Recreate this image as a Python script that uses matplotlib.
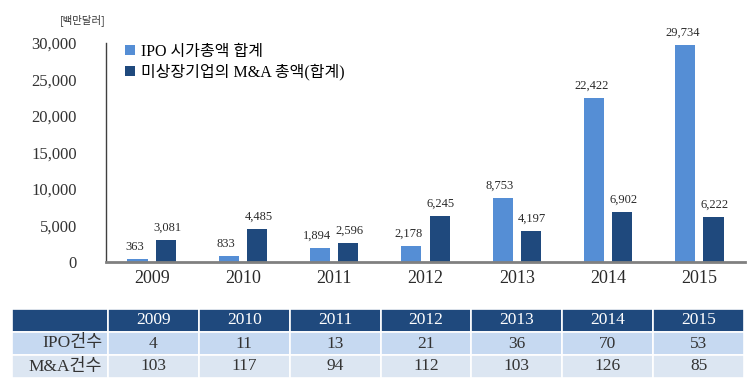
import matplotlib
matplotlib.use("Agg")
import matplotlib.pyplot as plt
import numpy as np

years = ["2009", "2010", "2011", "2012", "2013", "2014", "2015"]
ipo_value = [363, 833, 1894, 2178, 8753, 22422, 29734]
ma_value = [3081, 4485, 2596, 6245, 4197, 6902, 6222]
ipo_count = [4, 11, 13, 21, 36, 70, 53]
ma_count = [103, 117, 94, 112, 103, 126, 85]
series_names = ["IPO 시가총액 합계", "미상장기업의 M&A 총액(합계)"]
row_names = ["IPO건수", "M&A건수"]
unit_label = "[백만달러]"
yticks = [0, 5000, 10000, 15000, 20000, 25000, 30000]

FAM = ["Liberation Serif", "Noto Sans CJK KR"]
c_ipo = "#558ED5"
c_ma = "#1F497D"
txt = "#2a2a2a"

W, H = 751, 389
fig = plt.figure(figsize=(W / 100, H / 100), dpi=100)

ax = fig.add_axes([106 / W, 1 - 262 / H, (745 - 106) / W, (262 - 43) / H])
x = np.arange(len(years))
bw = 0.22
off = 0.155
b1 = ax.bar(x - off, ipo_value, bw, color=c_ipo, label=series_names[0])
b2 = ax.bar(x + off, ma_value, bw, color=c_ma, label=series_names[1])
ax.set_xlim(-0.5, len(years) - 0.5)
ax.set_ylim(0, 30000)
ax.set_yticks(yticks)
ax.set_yticklabels([f"{v:,}" for v in yticks], family=FAM, fontsize=12, color="#333333")
ax.set_xticks(x)
ax.set_xticklabels(years, family=FAM, fontsize=13, color=txt)
ax.tick_params(axis="y", length=0, pad=21)
ax.tick_params(axis="x", length=0, pad=6)
for s in ["top", "right"]:
    ax.spines[s].set_visible(False)
ax.spines["left"].set_color("#404040")
ax.spines["left"].set_linewidth(1)
ax.spines["bottom"].set_color("#808080")
ax.spines["bottom"].set_linewidth(2)

for bars, vals, dx in ((b1, ipo_value, -2), (b2, ma_value, 1)):
    for rect, v in zip(bars, vals):
        ax.annotate(f"{v:,}", (rect.get_x() + rect.get_width() / 2, rect.get_height()),
                    xytext=(dx, 4.5), textcoords="offset points", ha="center", va="bottom",
                    family=FAM, fontsize=9, color=txt)

leg = ax.legend(loc="upper left", bbox_to_anchor=(0.02, 1.025), frameon=False,
                prop={"family": FAM, "size": 11.5}, handlelength=0.6, handleheight=0.6,
                handletextpad=0.4, labelspacing=0.25, borderaxespad=0)

fig.text(60 / W, 1 - 20 / H, unit_label, family=["Noto Sans CJK KR"], fontsize=7.5,
         color="#333333", va="center", ha="left")

# table
tax = fig.add_axes([12 / W, 1 - 378 / H, (744 - 12) / W, (378 - 309) / H])
tax.axis("off")
cell_text = [["", *years], [row_names[0], *[str(v) for v in ipo_count]],
             [row_names[1], *[str(v) for v in ma_count]]]
first_w = 96 / 732
other_w = (1 - first_w) / len(years)
tbl = tax.table(cellText=cell_text, bbox=[0, 0, 1, 1], cellLoc="center",
                colWidths=[first_w] + [other_w] * len(years))
tbl.auto_set_font_size(False)
row_colors = ["#1F497D", "#C6D9F1", "#DCE6F2"]
for (r, c), cell in tbl.get_celld().items():
    cell.set_facecolor(row_colors[r])
    cell.set_edgecolor("white")
    cell.set_linewidth(1.2)
    t = cell.get_text()
    t.set_fontfamily(FAM)
    t.set_fontsize(12.5)
    t.set_color("white" if r == 0 else "#333333")
    if c == 0 and r > 0:
        t.set_ha("right")
        cell.PAD = 0.06

fig.savefig("out.png", dpi=100)
